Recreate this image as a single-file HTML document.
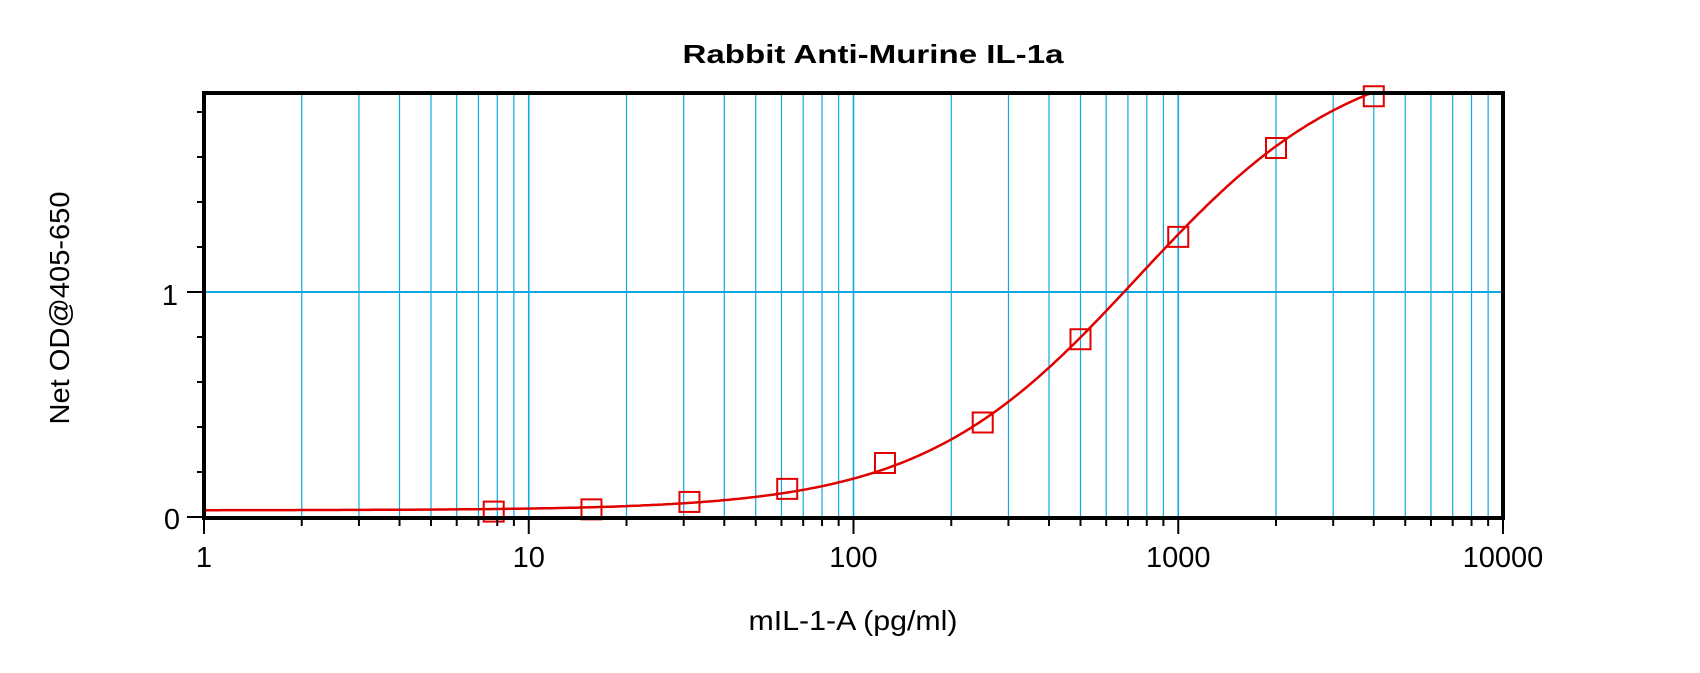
<!DOCTYPE html>
<html><head><meta charset="utf-8"><style>
html,body{margin:0;padding:0;background:#fff;}
svg text{font-family:"Liberation Sans",Arial,sans-serif;}
</style></head><body>
<svg id="s" width="1700" height="668" xmlns="http://www.w3.org/2000/svg">
<text x="873" y="63" font-size="26" font-weight="bold" text-anchor="middle" textLength="381" lengthAdjust="spacingAndGlyphs">Rabbit Anti-Murine IL-1a</text>
<g id="grid"></g>
<g id="curve"></g>
<rect x="204" y="93" width="1299" height="425" fill="none" stroke="#000" stroke-width="4"/>
<g id="ticks" stroke="#000" stroke-width="2"></g>
<g font-size="29" text-anchor="middle" id="xl"></g>
<text x="180" y="529" font-size="29" text-anchor="end">0</text>
<text x="178" y="305" font-size="29" text-anchor="end">1</text>
<text x="853" y="630" font-size="28" text-anchor="middle" textLength="209" lengthAdjust="spacingAndGlyphs">mIL-1-A (pg/ml)</text>
<text transform="translate(69,308) rotate(-90)" font-size="28" text-anchor="middle" textLength="233" lengthAdjust="spacingAndGlyphs">Net OD@405-650</text>
</svg>
<script>
const NS="http://www.w3.org/2000/svg";
const X0=204,DX=324.75,Y0=517,DY=225;
const sx=v=>X0+Math.log10(v)*DX, sy=v=>Y0-v*DY;
function el(p,t,a){const e=document.createElementNS(NS,t);for(const k in a)e.setAttribute(k,a[k]);p.appendChild(e);return e;}
const g=document.getElementById('grid'),tk=document.getElementById('ticks'),xl=document.getElementById('xl');
for(let d=0;d<4;d++)for(let m=1;m<10;m++){const v=m*Math.pow(10,d);const x=sx(v);
 if(!(d==0&&m==1)){el(g,'line',{x1:x,y1:93,x2:x,y2:518,stroke:'#10a8e0','stroke-width':m==1?1.6:1.2});}
 el(tk,'line',{x1:x,y1:518,x2:x,y2:m==1?534:526});}
el(tk,'line',{x1:1503,y1:518,x2:1503,y2:534});
el(g,'line',{x1:204,y1:sy(1),x2:1503,y2:sy(1),stroke:'#10a8e0','stroke-width':2});
for(let i=0;i<=9;i++){const y=sy(i*0.2);el(tk,'line',{x1:(i%5==0)?187:197,y1:y,x2:204,y2:y});}
[1,10,100,1000,10000].forEach(v=>{const t=el(xl,'text',{x:sx(v),y:567});t.textContent=v;});
const c=document.getElementById('curve');
const f=x=>2.1-2.07/(1+Math.pow(x/750,1.3));
let d="";for(let i=0;i<=400;i++){const lx=i/400*Math.log10(4000);const x=Math.pow(10,lx);d+=(i?"L":"M")+sx(x).toFixed(1)+","+sy(f(x)).toFixed(1);}
el(c,'path',{d:d,fill:'none',stroke:'#e00000','stroke-width':2.5});
const pts=[[7.8,0.024],[15.6,0.034],[31.25,0.067],[62.5,0.125],[125,0.24],[250,0.42],[500,0.79],[1000,1.245],[2000,1.64],[4000,1.87]];
pts.forEach(p=>{const x=sx(p[0]),y=sy(p[1]);el(c,'rect',{x:x-10,y:y-10,width:20,height:20,fill:'none',stroke:'#e00000','stroke-width':2});});
</script>
</body></html>
